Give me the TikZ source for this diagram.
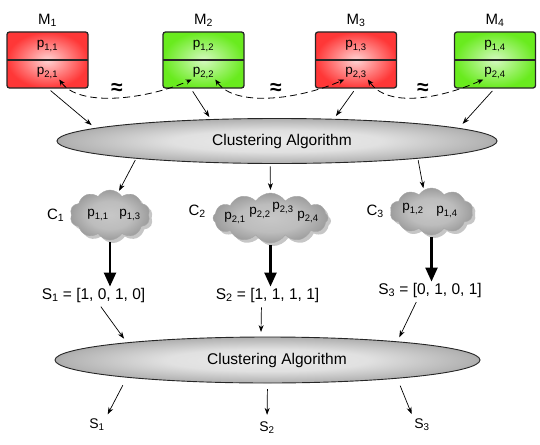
\documentclass[tikz,border=0pt]{standalone}
\usepackage{fontspec}
\setmainfont{Liberation Sans}
\usetikzlibrary{shapes.geometric,shapes.symbols,shadows,arrows.meta,positioning}
\definecolor{boxred}{RGB}{255,55,55}
\definecolor{boxgreen}{RGB}{105,235,30}
\newcommand{\sub}[1]{\textsubscript{#1}}
\pgfdeclareradialshading{algoshade}{\pgfpoint{0bp}{0bp}}{color(0bp)=(black!8); color(12bp)=(black!12); color(24bp)=(black!30); color(34bp)=(black!58); color(50bp)=(black!70)}
\pgfdeclareradialshading{cloudshade}{\pgfpoint{0bp}{0bp}}{color(0bp)=(black!22); color(14bp)=(black!26); color(28bp)=(black!42); color(50bp)=(black!55)}
\tikzset{
  model/.style={draw=black!85,line width=1.3pt,rounded corners=2.5pt,minimum width=81pt,minimum height=56pt,inner sep=0pt,outer sep=0pt},
  redbox/.style={model,inner color=boxred!22!white,outer color=boxred},
  greenbox/.style={model,inner color=boxgreen!28!white,outer color=boxgreen},
  divider/.style={draw=black!85,line width=1.8pt},
  ptext/.style={inner sep=1pt,font=\fontsize{13.5}{16}\selectfont},
  algo/.style={ellipse,draw=black!85,line width=0.9pt,shading=algoshade,inner sep=0pt,outer sep=0pt,font=\fontsize{15.5}{18}\selectfont},
  cluster/.style={cloud,cloud puffs=10,cloud puff arc=115,cloud ignores aspect,draw=black!35,shading=cloudshade,
    drop shadow={shadow xshift=3pt,shadow yshift=-3pt,opacity=0.45},inner sep=0pt,outer sep=0pt},
  arr/.style={-{Stealth[length=7pt,width=5pt]},line width=0.7pt},
  bigarr/.style={-{Triangle[length=14pt,width=12pt]},line width=2.3pt},
  sim/.style={{Stealth[length=6pt,width=5pt]}-{Stealth[length=6pt,width=5pt]},dash pattern=on 7pt off 4pt,line width=0.8pt},
  approx/.style={inner sep=0pt,font=\fontsize{21}{21}\selectfont\bfseries},
  slabel/.style={inner sep=1pt,font=\fontsize{15.5}{18}\selectfont},
  rlabel/.style={inner sep=1pt,font=\fontsize{14}{17}\selectfont}
}
\begin{document}
\begin{tikzpicture}[x=1pt,y=-1pt,font=\fontsize{15}{18}\selectfont]
\useasboundingbox (0,0) rectangle (540,444);
\node[redbox] (M1) at (47.5,60) {};
\node[greenbox] (M2) at (203.5,60) {};
\node[redbox] (M3) at (356,60) {};
\node[greenbox] (M4) at (495,60) {};
\foreach \m in {1,...,4}{
  \draw[divider] (M\m.west) -- (M\m.east);
  \node[above=5pt of M\m,inner sep=0pt] (m\m) {M\sub{\m}};
  \node[ptext] (p1\m) at ([yshift=14pt]M\m.center) {p\sub{1,\m}};
  \node[ptext] (p2\m) at ([yshift=-13pt]M\m.center) {p\sub{2,\m}};
}
\draw[sim] (p21.south east) .. controls +(20,28) and +(-45,20) .. (p22.south west);
\draw[sim] (p22.south east) .. controls +(20,28) and +(-45,20) .. (p23.south west);
\draw[sim] (p23.south east) .. controls +(20,28) and +(-45,20) .. (p24.south west);
\node[approx] (a1) at (117,89) {≈};
\node[approx] (a2) at (276,89) {≈};
\node[approx] (a3) at (423,89) {≈};

\node[algo,minimum width=440pt,minimum height=45pt] (E1) at (277,141) {\hspace*{10pt}Clustering Algorithm};
\draw[arr,shorten <=4pt,shorten >=5pt] (M1.south) -- (E1.176);
\draw[arr,shorten <=4pt,shorten >=3pt] ([xshift=-13pt]M2.south) -- (E1.162);
\draw[arr,shorten <=4pt,shorten >=4pt] (M3.south) -- (E1.21);
\draw[arr,shorten <=4pt,shorten >=6pt] (M4.south) -- (E1.4);

\node[cluster,minimum width=80pt,minimum height=50pt] (C1) at (110,215) {};
\node[cluster,minimum width=115pt,minimum height=50pt,cloud puffs=12] (C2) at (270.5,218) {};
\node[cluster,minimum width=83pt,minimum height=47pt] (C3) at (431.5,211.5) {};
\node[left=7pt of C1,inner sep=0pt] (c1) {C\sub{1}};
\node[left=7pt of C2,inner sep=0pt,yshift=7pt] (c2) {C\sub{2}};
\node[left=7pt of C3,inner sep=0pt] (c3) {C\sub{3}};
\node[ptext] (c1p11) at (98,215) {p\sub{1,1}};
\node[ptext] (c1p13) at (130,215) {p\sub{1,3}};
\node[ptext] (c2p21) at (235,218) {p\sub{2,1}};
\node[ptext] (c2p22) at (260,213) {p\sub{2,2}};
\node[ptext] (c2p23) at (283,208) {p\sub{2,3}};
\node[ptext] (c2p24) at (308,217) {p\sub{2,4}};
\node[ptext] (c3p12) at (413,209) {p\sub{1,2}};
\node[ptext] (c3p14) at (447,212) {p\sub{1,4}};
\draw[arr,shorten <=2pt,shorten >=2pt] (E1.187) -- (C1.70);
\draw[arr,shorten <=3pt,shorten >=3pt] (E1.-107) -- (C2.north);
\draw[arr,shorten <=2pt,shorten >=2pt] (E1.-7) -- (C3.110);

\node[slabel] (S1) at (93.5,295) {S\sub{1} = [1, 0, 1, 0]};
\node[slabel] (S2) at (267.5,295) {S\sub{2} = [1, 1, 1, 1]};
\node[slabel] (S3) at (430,290) {S\sub{3} = [0, 1, 0, 1]};
\draw[bigarr,shorten <=2pt] (C1.south) -- (C1.south |- S1.north);
\draw[bigarr,shorten <=2pt] (C2.south) -- (C2.south |- S2.north);
\draw[bigarr,shorten <=2pt] (C3.south) -- (C3.south |- S3.north);

\node[algo,minimum width=425pt,minimum height=46pt] (E2) at (267.5,360) {\hspace*{19pt}Clustering Algorithm};
\draw[arr,shorten <=4pt,shorten >=5pt] ([xshift=5pt]S1.south) -- (E2.173);
\draw[arr,shorten <=4pt,shorten >=5pt] ([xshift=-6pt]S2.south) -- (E2.106);
\draw[arr,shorten <=4pt,shorten >=5pt] ([xshift=-12pt]S3.south) -- (E2.8);

\node[rlabel] (r1) at (97,425) {S\sub{1}};
\node[rlabel] (r2) at (267,428) {S\sub{2}};
\node[rlabel] (r3) at (422,425) {S\sub{3}};
\draw[arr,shorten <=9pt,shorten >=4pt] (E2.187.5) -- (r1.north east);
\draw[arr,shorten <=6pt,shorten >=6pt] (E2.south) -- (r2.north);
\draw[arr,shorten <=8pt,shorten >=4pt] (E2.-8) -- (r3.north west);
\end{tikzpicture}
\end{document}
